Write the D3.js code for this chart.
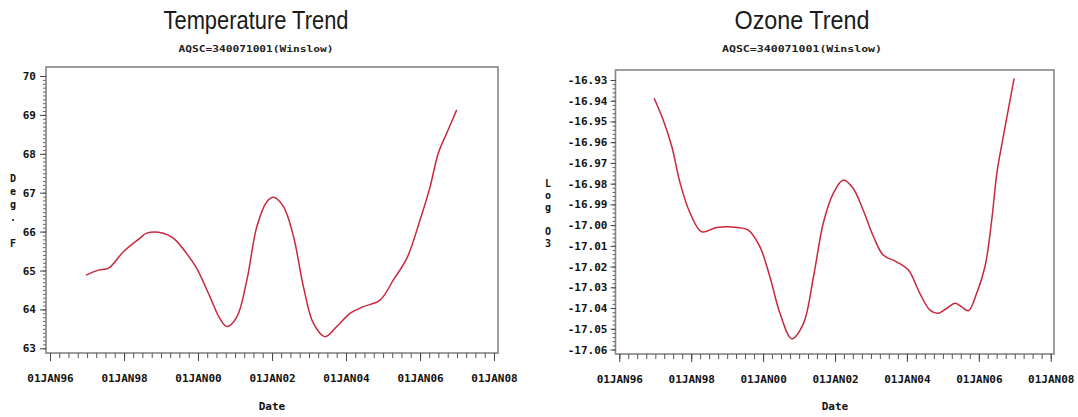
<!DOCTYPE html>
<html>
<head>
<meta charset="utf-8">
<script src="https://cdn.jsdelivr.net/npm/d3@7"></script>
<style>
  body { margin: 0; background: #fff; }
  svg { display: block; }
</style>
</head>
<body>
<script>
const width = 1078;
const height = 417;

// x values are decimal years
const tempYears = [1996.97, 1997.31, 1997.58, 1997.98, 1998.43, 1998.61, 1999.06, 1999.33, 1999.69, 1999.96,
  2000.32, 2000.59, 2000.78, 2001.05, 2001.32, 2001.59, 2001.86, 2002.04, 2002.31, 2002.58,
  2002.85, 2003.12, 2003.43, 2003.75, 2004.11, 2004.47, 2004.92, 2005.28, 2005.64, 2006.0,
  2006.27, 2006.49, 2006.72, 2006.99];
const tempValues = [64.88, 65.01, 65.06, 65.48, 65.83, 65.96, 65.96, 65.83, 65.44, 65.06,
  64.33, 63.77, 63.56, 63.81, 64.76, 66.13, 66.77, 66.88, 66.64, 65.87,
  64.58, 63.64, 63.30, 63.56, 63.90, 64.07, 64.24, 64.76, 65.31, 66.30,
  67.15, 68.01, 68.53, 69.13];

const ozoneYears = [1996.97, 1997.22, 1997.46, 1997.69, 1997.97, 1998.29, 1998.71, 1999.27, 1999.59, 1999.91,
  2000.19, 2000.47, 2000.80, 2001.12, 2001.40, 2001.67, 2001.95, 2002.23, 2002.50, 2002.78,
  2003.07, 2003.34, 2003.71, 2004.04, 2004.36, 2004.64, 2004.87, 2005.11, 2005.34, 2005.52,
  2005.71, 2005.94, 2006.17, 2006.36, 2006.50, 2006.73, 2006.98];
const ozoneValues = [-16.9388, -16.9493, -16.9622, -16.9798, -16.9943, -17.0032, -17.0011, -17.0011, -17.0024, -17.0104,
  -17.0249, -17.0426, -17.0548, -17.0474, -17.0249, -16.9991, -16.9847, -16.9782, -16.9822, -16.9927,
  -17.0056, -17.0144, -17.0177, -17.0217, -17.0329, -17.0410, -17.0425, -17.0401, -17.0377, -17.0394,
  -17.0413, -17.0329, -17.0201, -16.9975, -16.9750, -16.9525, -16.9292];

const xTickYears = [1996, 1998, 2000, 2002, 2004, 2006, 2008];
const tempTicks = [63, 64, 65, 66, 67, 68, 69, 70];
const ozoneTicks = [-17.06, -17.05, -17.04, -17.03, -17.02, -17.01, -17.00,
  -16.99, -16.98, -16.97, -16.96, -16.95, -16.94, -16.93];

const panels = [
  {
    title: 'Temperature Trend', titleWidth: 185, subtitle: 'AQSC=340071001(Winslow)', subWidth: 155, cx: 256,
    label: 'Deg. F', labelX: 13, labelY: 178, labelStep: 13,
    years: tempYears, values: tempValues, ticks: tempTicks, minor: 0.1, format: (d) => d,
    frame: [46, 67, 498, 353], xRange: [50, 494], yRange: [348.3, 76], yTick: 6, yPad: 4,
  },
  {
    title: 'Ozone Trend', titleWidth: 135, subtitle: 'AQSC=340071001(Winslow)', subWidth: 160, cx: 802,
    label: 'Log O3', labelX: 548, labelY: 183, labelStep: 12,
    years: ozoneYears, values: ozoneValues, ticks: ozoneTicks, minor: 0.002, format: (d) => d.toFixed(2),
    frame: [615.5, 70, 1054, 354], xRange: [619.3, 1050.7], yRange: [349.5, 80], yTick: 5, yPad: 3,
  },
];

const mono = "'DejaVu Sans Mono', 'Liberation Mono', monospace";

const svg = d3.select('body')
  .append('svg')
    .attr('viewBox', [0, 0, width, height].join(' '))
    .attr('width', width)
    .attr('height', height);

const toDate = (y) => new Date(Math.floor(y), 0, 1 + Math.round((y - Math.floor(y)) * 365.25));

const build = (p) => {
  const g = svg.append('g');
  const f = p.frame;

  const x = d3.scaleTime()
    .domain([new Date(1996, 0, 1), new Date(2008, 0, 1)])
    .range(p.xRange);

  const y = d3.scaleLinear()
    .domain(d3.extent(p.ticks))
    .range(p.yRange);

  // titles
  g.append('text')
    .attr('x', p.cx).attr('y', 29)
    .attr('text-anchor', 'middle')
    .attr('textLength', p.titleWidth)
    .attr('lengthAdjust', 'spacingAndGlyphs')
    .style('font-family', "'Liberation Sans Narrow', 'Liberation Sans', Arial, sans-serif")
    .style('font-size', '26px')
    .style('fill', '#1a1a1a')
    .text(p.title);

  g.append('text')
    .attr('x', p.cx).attr('y', 51.5)
    .attr('text-anchor', 'middle')
    .attr('textLength', p.subWidth)
    .attr('lengthAdjust', 'spacingAndGlyphs')
    .style('font-family', mono)
    .style('font-weight', 'bold')
    .style('font-size', '9px')
    .style('fill', '#222')
    .text(p.subtitle);

  // frame
  g.append('rect')
    .attr('x', f[0]).attr('y', f[1])
    .attr('width', f[2] - f[0]).attr('height', f[3] - f[1])
    .attr('fill', 'none')
    .attr('stroke', '#858585')
    .attr('stroke-width', 1.6);

  // x axis: quarterly minor ticks, two-year labels
  const minorDates = d3.timeMonth.every(3).range(new Date(1996, 0, 1), new Date(2008, 0, 2));

  g.append('g')
    .attr('transform', `translate(0, ${f[3]})`)
    .call(d3.axisBottom(x).tickValues(minorDates).tickSize(5).tickFormat(''))
    .call((s) => s.select('.domain').remove())
    .call((s) => s.selectAll('line').attr('stroke', '#555'));

  g.append('g')
    .attr('transform', `translate(0, ${f[3]})`)
    .call(d3.axisBottom(x)
      .tickValues(xTickYears.map((yr) => new Date(yr, 0, 1)))
      .tickSize(8)
      .tickPadding(13)
      .tickFormat((d) => d3.timeFormat('%d%b%y')(d).toUpperCase()))
    .call((s) => s.select('.domain').remove())
    .call((s) => s.selectAll('line').attr('stroke', '#444'))
    .call((s) => s.selectAll('text')
      .style('font-family', mono)
      .style('font-weight', 'bold')
      .style('font-size', '11px')
      .style('fill', '#111'));

  g.append('text')
    .attr('x', (p.xRange[0] + p.xRange[1]) / 2).attr('y', 410)
    .attr('text-anchor', 'middle')
    .style('font-family', mono)
    .style('font-weight', 'bold')
    .style('font-size', '11px')
    .style('fill', '#111')
    .text('Date');

  // y axis
  const [lo, hi] = d3.extent(p.ticks);
  const minorVals = d3.range(0, Math.round((hi - lo) / p.minor) + 1).map((i) => lo + i * p.minor);

  g.append('g')
    .attr('transform', `translate(${f[0]}, 0)`)
    .call(d3.axisLeft(y).tickValues(minorVals).tickSize(3).tickFormat(''))
    .call((s) => s.select('.domain').remove())
    .call((s) => s.selectAll('line').attr('stroke', '#666'));

  g.append('g')
    .attr('transform', `translate(${f[0]}, 0)`)
    .call(d3.axisLeft(y)
      .tickValues(p.ticks)
      .tickSize(p.yTick)
      .tickPadding(p.yPad)
      .tickFormat(p.format))
    .call((s) => s.select('.domain').remove())
    .call((s) => s.selectAll('line').attr('stroke', '#444'))
    .call((s) => s.selectAll('text')
      .style('font-family', mono)
      .style('font-weight', 'bold')
      .style('font-size', '11px')
      .style('fill', '#111'));

  // stacked y label
  g.append('text')
    .attr('text-anchor', 'middle')
    .style('font-family', mono)
    .style('font-weight', 'bold')
    .style('font-size', '10px')
    .style('fill', '#111')
    .selectAll('tspan')
    .data(p.label.split(''))
    .enter()
      .append('tspan')
      .attr('x', p.labelX)
      .attr('y', (d, i) => p.labelY + 4 + i * p.labelStep)
      .text((d) => d);

  // trend line
  const points = p.years.map((yr, i) => ({ date: toDate(yr), value: p.values[i] }));

  const line = d3.line()
    .curve(d3.curveCatmullRom.alpha(0.5))
    .x((d) => x(d.date))
    .y((d) => y(d.value));

  g.append('path')
    .datum(points)
    .attr('fill', 'none')
    .attr('stroke', '#c8283e')
    .attr('stroke-width', 1.5)
    .attr('d', line);
};

panels.forEach(build);
</script>
</body>
</html>
